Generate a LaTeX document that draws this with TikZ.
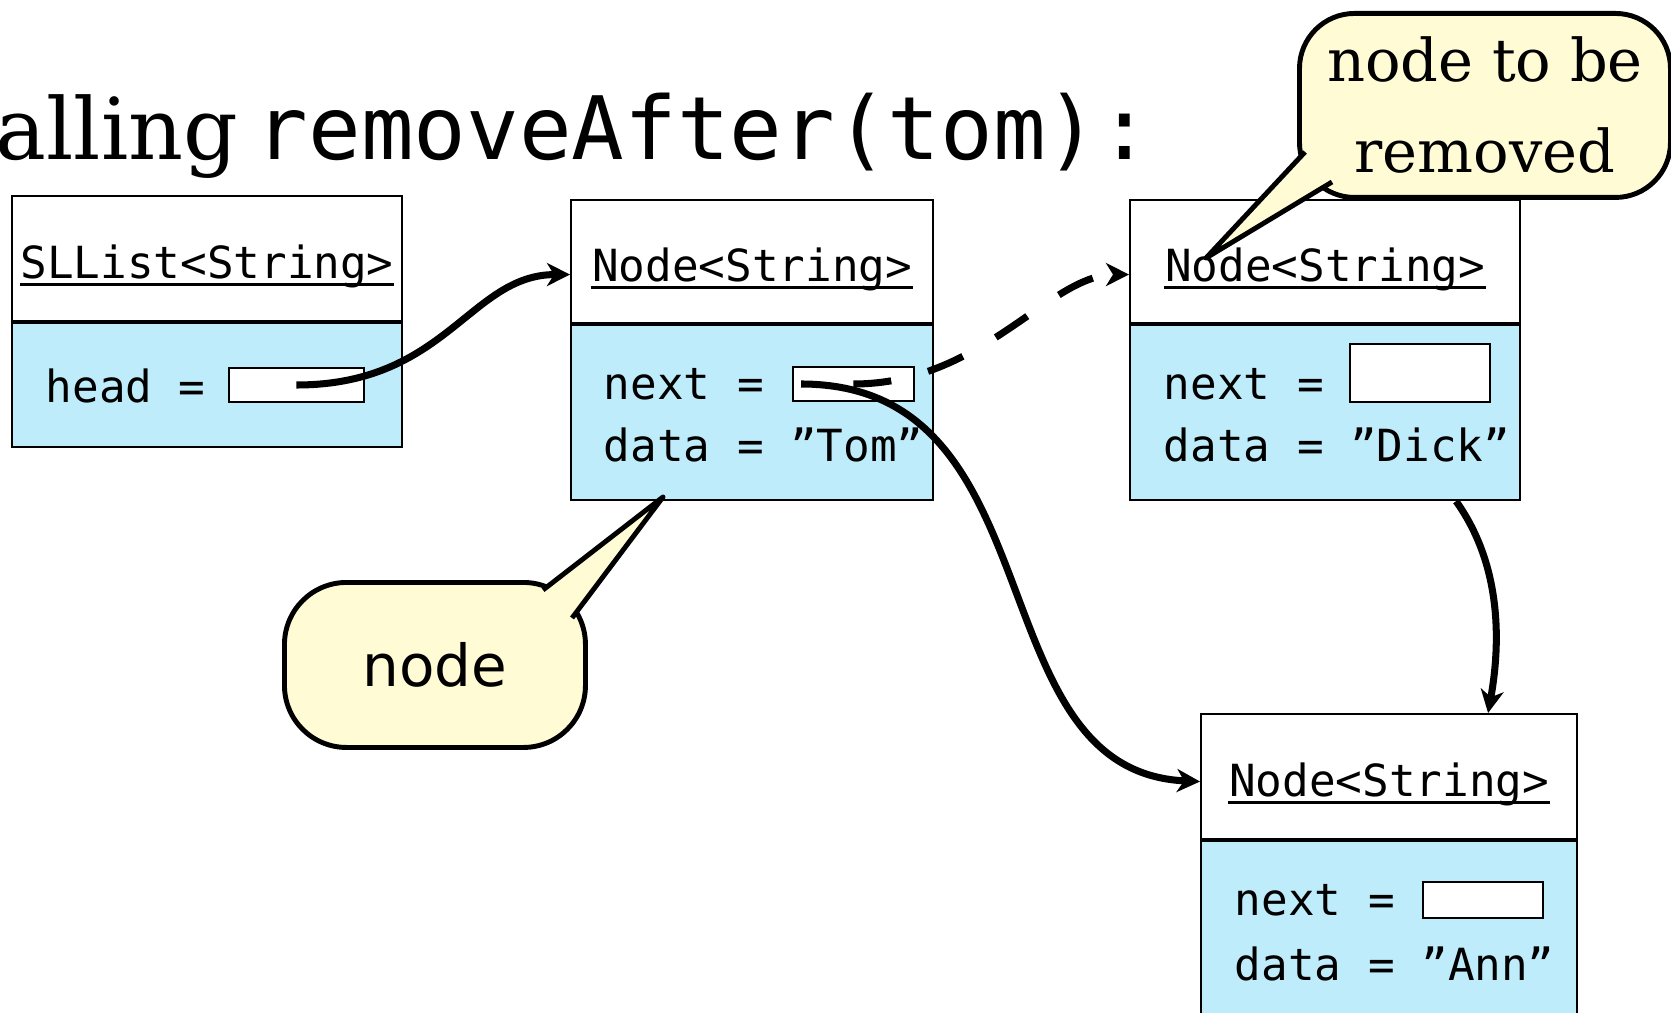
\documentclass[tikz,border=0pt]{standalone}
\usepackage{fontspec}
\setmainfont{DejaVu Serif}
\setsansfont{DejaVu Sans}
\setmonofont{DejaVu Sans Mono}
\usetikzlibrary{arrows.meta,positioning}

\definecolor{objblue}{RGB}{191,236,251}
\definecolor{notefill}{RGB}{255,252,213}

\tikzstyle{hdr}=[draw,line width=0.6pt,fill=white,inner sep=0pt]
\tikzstyle{fields}=[draw,line width=0.6pt,fill=objblue,inner sep=0pt]
\tikzstyle{field}=[inner sep=0pt,anchor=west,font=\ttfamily\fontsize{12.6}{15}\selectfont]
\tikzstyle{ptrbox}=[draw,line width=0.5pt,fill=white,inner sep=0pt,anchor=west]
\tikzstyle{ref}=[line width=2pt,-{Stealth[length=2.3mm,width=2.3mm,inset=0.7mm]}]
\tikzstyle{note}=[draw,line width=1.4pt,fill=notefill,inner sep=0pt,anchor=north west]
\tikzstyle{noteside}=[line width=1.4pt,line join=round]

% object box: name, top left, width, header height, body height, class
\newcommand{\objbox}[6]{\node[hdr,anchor=north west,minimum width=#3,minimum height=#4] (#1) at (#2) {};
  \node[field,anchor=center] (#1name) at ([yshift=-0.8mm]#1.center) {#6};
  \draw[line width=0.7pt] ([yshift=-0.6mm]#1name.base west) -- ([yshift=-0.6mm]#1name.base east);
  \node[fields,anchor=north,minimum width=#3,minimum height=#5] (#1body) at (#1.south) {};}

\begin{document}
\begin{tikzpicture}[x=0.1mm,y=-0.1mm]
    \useasboundingbox (0,0) rectangle (1671,1013);
    \clip (0,0) rectangle (1671,1013);

    \node[anchor=base east,inner sep=0pt,font=\fontsize{24.3}{29}\selectfont] (calling) at (239,160) {Calling};
    \node[anchor=base west,inner sep=0pt,font=\ttfamily\fontsize{24.9}{29}\selectfont] (call) at (255,160) {removeAfter(tom):};

    % the list and its three nodes
    \objbox{sl}{11,195}{39mm}{12.5mm}{12.4mm}{SLList<String>}
    \node[field] (slhead) at (45,386) {head =};
    \node[ptrbox,minimum width=13.5mm,minimum height=3.4mm] (slptr) at (228,385) {};

    \objbox{tom}{570,199}{36.2mm}{12.3mm}{17.5mm}{Node<String>}
    \node[field] (tomnext) at (603,384) {next =};
    \node[ptrbox,minimum width=12.1mm,minimum height=3.4mm] (tomptr) at (792,384) {};
    \node[field] (tomdata) at (603,445) {data = ”Tom”};

    \objbox{dick}{1129,199}{39mm}{12.3mm}{17.5mm}{Node<String>}
    \node[field] (dicknext) at (1163,384) {next =};
    \node[ptrbox,minimum width=14mm,minimum height=5.8mm] (dickptr) at (1349,373) {};
    \node[field] (dickdata) at (1163,445) {data = ”Dick”};

    \objbox{ann}{1200,713}{37.6mm}{12.5mm}{20mm}{Node<String>}
    \node[field] (annnext) at (1234,900) {next =};
    \node[ptrbox,minimum width=12mm,minimum height=3.6mm] (annptr) at (1422,900) {};
    \node[field] (anndata) at (1234,964) {data = ”Ann”};

    % references
    \draw[ref] (slptr.center) .. controls +(150,0) and +(-100,0) .. ([yshift=-1.3mm]tom.west);
    \draw[ref,dash pattern=on 3.8mm off 3.8mm] (tomptr.center) .. controls +(130,0) and +(-80,0) .. ([yshift=-1.3mm]dick.west);
    \draw[ref] ([xshift=0.9mm]tomptr.west) .. controls +(259,0) and +(-226,-10) .. ([yshift=-0.5mm]ann.west);
    \draw[ref] ([xshift=13.1mm]dickbody.south) .. controls +(45,63) and +(13,-72) .. ([xshift=9.9mm]ann.north);

    % callouts
    \node[note,rounded corners=5.5mm,minimum width=37.1mm,minimum height=18.4mm,align=center,font=\fontsize{16.8}{25.9}\selectfont] (removed) at (1297,11) {node to be\\removed};
    \coordinate (removedtip) at (1206,258);
    \fill[notefill] (1305,152) -- (removedtip) -- (1332,182) -- (1332,172) -- (1314,152) -- cycle;
    \draw[noteside] (1305,152) -- (removedtip) -- (1332,182);

    \node[note,rounded corners=6.2mm,minimum width=30.1mm,minimum height=16.5mm,font=\sffamily\fontsize{16.5}{20}\selectfont] (nodenote) at (282,580) {node};
    \coordinate (nodetip) at (663,497);
    \fill[notefill] (543,590) -- (nodetip) -- (572,618) -- (563,620) -- (543,600) -- cycle;
    \draw[noteside] (543,590) -- (nodetip) -- (572,618);
\end{tikzpicture}
\end{document}
